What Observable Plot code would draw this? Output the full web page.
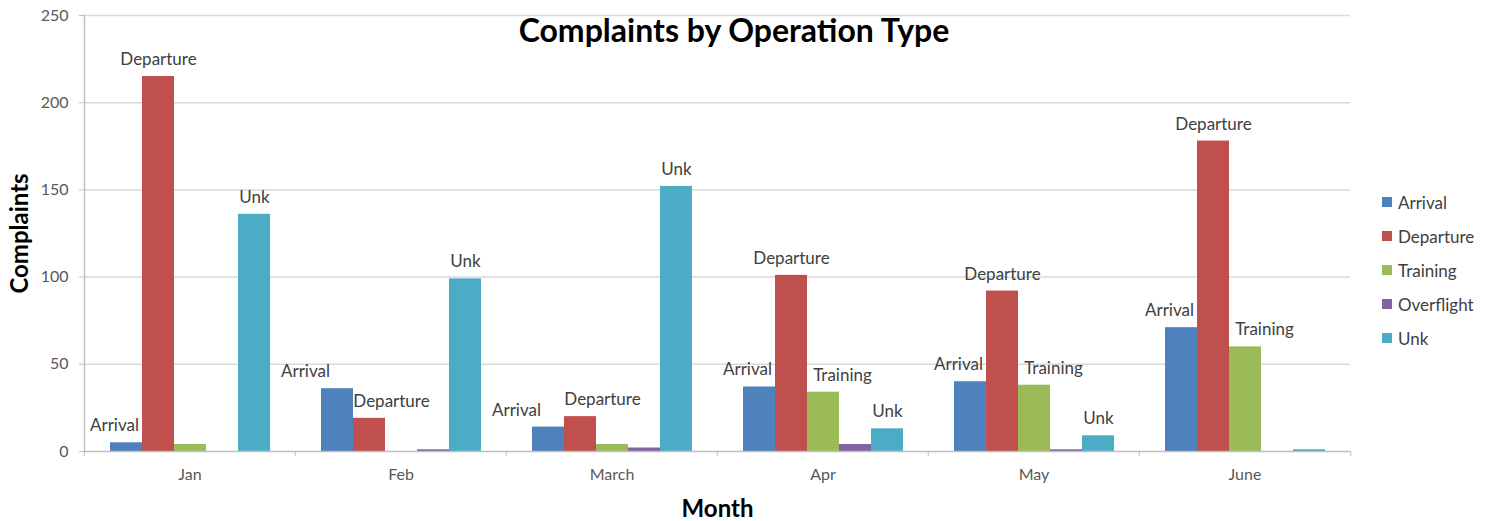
<!DOCTYPE html>
<html><head><meta charset="utf-8">
<script src="https://cdn.jsdelivr.net/npm/d3@7"></script>
<script src="https://cdn.jsdelivr.net/npm/@observablehq/plot@0.6"></script>
<style>
body{margin:0;background:#fff;}
#wrap{position:relative;width:1494px;height:521px;font-family:Lato,sans-serif;}
#title{position:absolute;left:0;width:1468px;top:10px;text-align:center;font-weight:bold;font-size:32px;color:#000;}
#legend{position:absolute;left:1382px;top:185px;font-size:17px;color:#404040;}
#legend .item{display:flex;align-items:center;height:34px;}
#legend .sw{width:10px;height:10px;margin-right:6px;}
g[aria-label="y-axis label"] text, g[aria-label="fx-axis label"] text{font-weight:bold;font-size:24px;fill:#000;}
</style></head><body>
<div id="wrap"><div id="chart"></div><div id="title">Complaints by Operation Type</div><div id="legend"></div></div>
<script>
const months = ["Jan","Feb","March","Apr","May","June"];
const series = ["Arrival","Departure","Training","Overflight","Unk"];
const arrival    = [5, 36, 14, 37, 40, 71];
const departure  = [215, 19, 20, 101, 92, 178];
const training   = [4, 0, 4, 34, 38, 60];
const overflight = [0, 1, 2, 4, 1, 0];
const unk        = [136, 99, 152, 13, 9, 1];
const colors = ["#4F81BD","#C0504D","#9BBB59","#8064A2","#4BACC6"];
const yTicks = [0, 50, 100, 150, 200, 250];

const seriesValues = [arrival, departure, training, overflight, unk];
const data = months.flatMap((m, i) => series.map((s, j) => ({month: m, series: s, value: seriesValues[j][i]})));

const W = 1494, H = 521, ML = 82, MR = 143, MT = 15, MB = 70;
const step = (W - ML - MR) / months.length;

// months where arrival and departure labels would collide get spread apart
const crowded = new Set(months.filter((m, i) => Math.abs(arrival[i] - departure[i]) < 20));
const labelSpecs = [
  {s: "Arrival", when: d => !crowded.has(d.month), dx: -12},
  {s: "Arrival", when: d => crowded.has(d.month), dx: -32},
  {s: "Departure", when: d => !crowded.has(d.month), dx: 0},
  {s: "Departure", when: d => crowded.has(d.month), dx: 22},
  {s: "Training", when: () => true, dx: 19},
  {s: "Unk", when: () => true, dx: 0}
];
const labelMarks = labelSpecs.map(({s, when, dx}) => Plot.text(data.filter(d => d.series === s && d.value >= 5 && when(d)), {
  fx: "month", x: "series", y: "value", text: "series", dy: -17, dx, fill: "#404040", fontSize: 17
}));

const chart = Plot.plot({
  width: W, height: H, marginLeft: ML, marginRight: MR, marginTop: MT, marginBottom: MB,
  style: {fontFamily: "Lato, sans-serif", fontSize: "16px", color: "#595959", background: "#fff"},
  fx: {domain: months, padding: 0},
  x: {domain: series, paddingInner: 0, paddingOuter: 0.76, axis: null},
  y: {domain: [0, 250]},
  color: {domain: series, range: colors},
  marks: [
    Plot.ruleY(yTicks.slice(1), {stroke: "#d9d9d9", strokeWidth: 1.5}),
    Plot.barY(data, {fx: "month", x: "series", y: "value", fill: "series"}),
    ...labelMarks,
    Plot.ruleY([0], {stroke: "#bfbfbf", strokeWidth: 1.5}),
    Plot.frame({anchor: "left", facetAnchor: "left", stroke: "#bfbfbf", strokeWidth: 1.5}),
    Plot.axisY({ticks: yTicks, tickSize: 5, tickPadding: 11, stroke: "#bfbfbf", label: "Complaints", labelAnchor: "center", labelOffset: 74, labelArrow: "none"}),
    Plot.axisFx({anchor: "bottom", tickSize: 0, tickPadding: 17, label: "Month", labelAnchor: "center", labelOffset: 65, labelArrow: "none"}),
    Plot.axisFx({anchor: "bottom", tickSize: 5, tickFormat: () => "", dx: -step / 2, label: null, stroke: "#bfbfbf"}),
    Plot.axisFx({anchor: "bottom", ticks: [months[months.length - 1]], tickSize: 5, tickFormat: () => "", dx: step / 2, label: null, stroke: "#bfbfbf"})
  ]
});
document.getElementById("chart").appendChild(chart);

const legend = document.getElementById("legend");
series.forEach((s, i) => {
  const it = document.createElement("div");
  it.className = "item";
  it.innerHTML = `<div class="sw" style="background:${colors[i]}"></div><span>${s}</span>`;
  legend.appendChild(it);
});
</script>
</body></html>
